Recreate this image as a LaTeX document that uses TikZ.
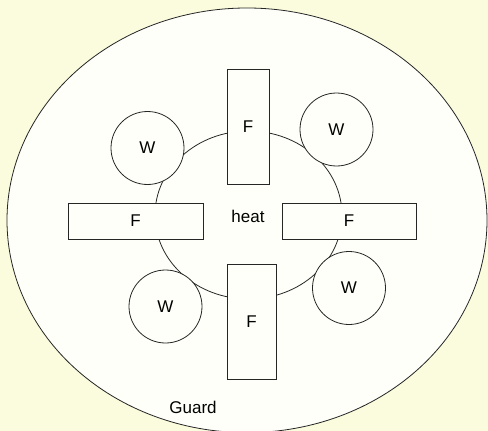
\documentclass[tikz,border=0pt]{standalone}
\usepackage{fontspec}
\setmainfont{Liberation Sans}
\usetikzlibrary{shapes.geometric}
\definecolor{bgyellow}{RGB}{251,251,221}
\definecolor{inner}{RGB}{255,255,250}
\begin{document}
\begin{tikzpicture}[x=1pt,y=-1pt,
  every node/.style={inner sep=0pt,outer sep=0pt,font=\fontsize{17pt}{19pt}\selectfont},
  ln/.style={draw=black!85,line width=0.8pt},
  fbox/.style={ln,fill=inner,rectangle},
  wcirc/.style={ln,fill=inner,circle,minimum size=73pt}]
\useasboundingbox (0,0) rectangle (488,431);
\fill[bgyellow] (0,0) rectangle (488,431);
\begin{scope}
\clip (0,0) rectangle (488,431);
\node[ln,fill=inner,ellipse,minimum width=480pt,minimum height=424.6pt] (guard) at (247,220.3) {};
\end{scope}
\node[ln,ellipse,minimum width=187pt,minimum height=168pt] (heat) at (248.5,215) {};
\node at (248,216) (heatlabel) {heat};
\node[fbox,minimum width=42pt,minimum height=115pt] (ftop) at (248,126.5) {F};
\node[fbox,minimum width=49pt,minimum height=115pt] (fbot) at (251.5,321.5) {F};
\node[fbox,minimum width=135pt,minimum height=36pt] (fleft) at (135.5,221) {F};
\node[fbox,minimum width=134pt,minimum height=36pt] (fright) at (349,221) {F};
\node[wcirc] (wtl) at (147.5,148) {W};
\node[wcirc] (wtr) at (336.5,129.5) {W};
\node[wcirc] (wbl) at (165.5,306.5) {W};
\node[wcirc] (wbr) at (349,288) {W};
\node (guardlabel) at (193,407) {Guard};
\end{tikzpicture}
\end{document}
